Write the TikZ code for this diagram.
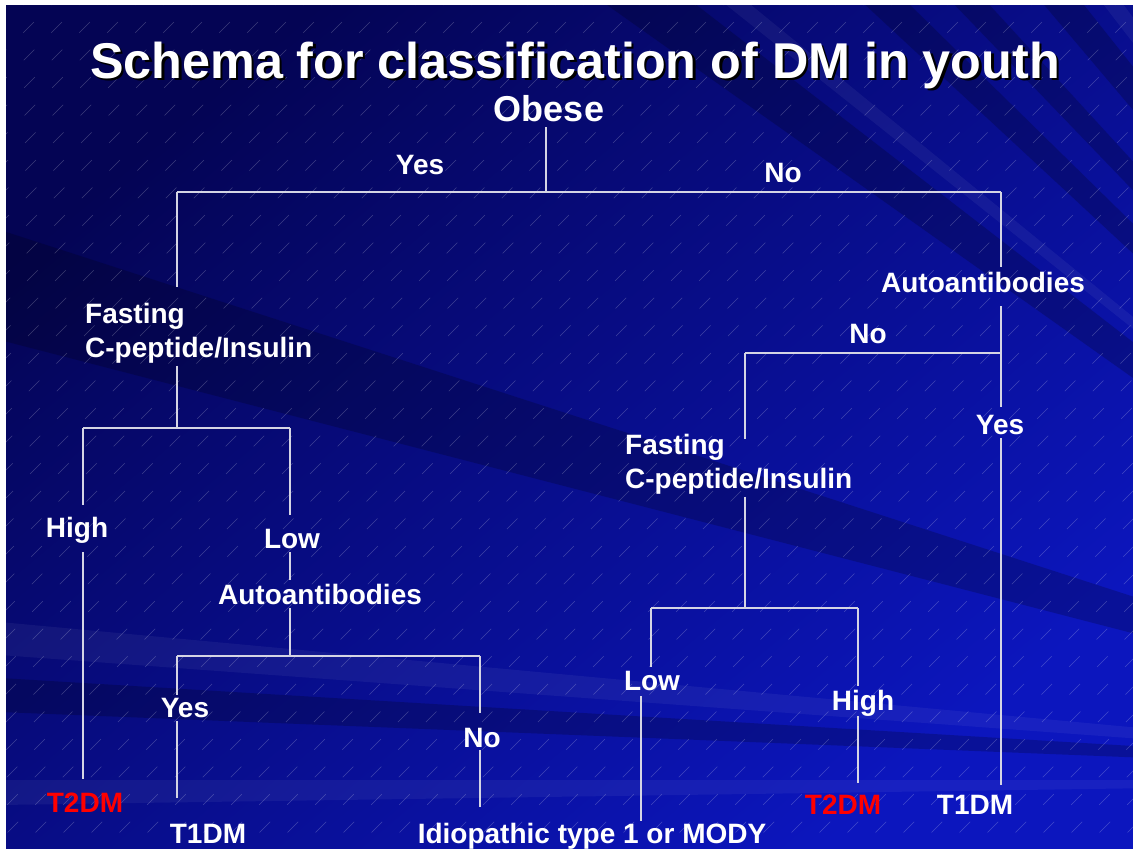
\documentclass[tikz,border=0pt]{standalone}
\usepackage{fontspec}
\setmainfont{Liberation Sans}
\usetikzlibrary{calc}
\definecolor{bgdark}{RGB}{4,4,84}
\definecolor{bgmid}{RGB}{0,0,138}
\definecolor{bglight}{RGB}{12,22,190}
\definecolor{wirec}{RGB}{212,212,228}
\definecolor{tred}{RGB}{255,0,0}
\begin{document}
\begin{tikzpicture}[x=1pt,y=-1pt,
  lbl/.style={text=white,font=\bfseries\fontsize{28}{34}\selectfont,inner sep=0pt,anchor=base},
  res/.style={lbl,text=tred},
  multi/.style={lbl,align=left,anchor=north west},
  bigl/.style={lbl,font=\bfseries\fontsize{36}{40}\selectfont},
  titlef/.style={lbl,font=\bfseries\fontsize{50.3}{56}\selectfont},
  wire/.style={draw=wirec,line width=1.3pt},
  hatch/.style={white,opacity=0.22,line width=0.6pt,dash pattern=on 15pt off 24pt},
  darkray/.style={fill=black,opacity=0.20},
  lightray/.style={fill=white,opacity=0.05}]
\useasboundingbox (0,0) rectangle (1133,849);
\fill[white] (0,0) rectangle (1133,849);
\begin{scope}
  \clip (6,5) rectangle (1133,849);
  \shade[shading=axis,top color=bgdark,middle color=bgmid,bottom color=bglight,shading angle=40] (6,5) rectangle (1133,849);
  \coordinate (F) at (1700,780);
  % rays
  \fill[darkray] (F) -- (600,0) -- (690,0) -- cycle;
  \fill[darkray] (F) -- (860,0) -- (905,0) -- cycle;
  \fill[darkray] (F) -- (950,0) -- (985,0) -- cycle;
  \fill[darkray] (F) -- (1040,0) -- (1080,0) -- cycle;
  \fill[lightray] (F) -- (720,0) -- (745,0) -- cycle;
  \fill[lightray] (F) -- (1100,0) -- (1120,0) -- cycle;
  \fill[darkray] (F) -- (0,230) -- (0,340) -- cycle;
  \fill[darkray] (F) -- (0,678) -- (0,712) -- cycle;
  \fill[lightray] (F) -- (0,622) -- (0,655) -- cycle;
  \fill[lightray] (F) -- (0,780) -- (0,805) -- cycle;
  % hatching
  \foreach \i in {-860,-832,...,1133} \draw[hatch] (\i,860) -- ++(870,-870);
\end{scope}

% title with its drop shadow
\node[titlef,text=black] (titleshadow) at (577.5,80.5) {Schema for classification of DM in youth};
\node[titlef] (title) at (575,78) {Schema for classification of DM in youth};

% nodes
\node[bigl] (obese) at (549,121) {Obese};
\node[lbl] (yesT) at (420,174) {Yes};
\node[lbl] (noT) at (783,182) {No};
\node[multi] (fastL) at (85,303) {Fasting\\C-peptide/Insulin};
\node[lbl] (highL) at (77,537) {High};
\node[lbl] (lowL) at (292,548) {Low};
\node[lbl] (autoL) at (320,604) {Autoantibodies};
\node[lbl] (yesB) at (185,717) {Yes};
\node[lbl] (noB) at (482,747) {No};
\node[res] (t2dmL) at (85,812) {T2DM};
\node[lbl] (t1dmL) at (208,843) {T1DM};
\node[lbl] (idio) at (592,843) {Idiopathic type 1 or MODY};
\node[lbl] (autoR) at (983,292) {Autoantibodies};
\node[lbl] (noR) at (868,343) {No};
\node[lbl] (yesR) at (1000,434) {Yes};
\node[multi] (fastR) at (625,434) {Fasting\\C-peptide/Insulin};
\node[lbl] (lowR) at (652,690) {Low};
\node[lbl] (highR) at (863,710) {High};
\node[res] (t2dmR) at (843,814) {T2DM};
\node[lbl] (t1dmR) at (975,814) {T1DM};

% junctions
\coordinate (j0) at (546,192);
\coordinate (jL) at (177,192);
\coordinate (jR) at (1001,192);
\coordinate (jLM) at (177,428);
\coordinate (jLL) at (83,428);
\coordinate (jLR) at (290,428);
\coordinate (jBM) at (290,656);
\coordinate (jBL) at (177,656);
\coordinate (jBR) at (480,656);
\coordinate (jRN) at (1001,353);
\coordinate (jRNL) at (745,353);
\coordinate (jRF) at (745,608);
\coordinate (jRFL) at (651,608);
\coordinate (jRFR) at (858,608);

% connectors
\draw[wire] ($(obese.base -| j0)+(0,6)$) -- (j0);
\draw[wire] (jL) -- (jR);
\draw[wire] (jL) -- ($(fastL.north -| jL)+(0,-16)$);
\draw[wire] ($(fastL.south -| jL)+(0,2)$) -- (jLM);
\draw[wire] (jLL) -- (jLR);
\draw[wire] (jLL) -- ($(highL.base -| jLL)+(0,-32)$);
\draw[wire] ($(highL.base -| jLL)+(0,15)$) -- ($(t2dmL.base -| jLL)+(0,-33)$);
\draw[wire] (jLR) -- ($(lowL.base -| jLR)+(0,-33)$);
\draw[wire] ($(lowL.base -| jLR)+(0,4)$) -- ($(autoL.base -| jLR)+(0,-24)$);
\draw[wire] ($(autoL.base -| jLR)+(0,4)$) -- (jBM);
\draw[wire] (jBL) -- (jBR);
\draw[wire] (jBL) -- ($(yesB.base -| jBL)+(0,-22)$);
\draw[wire] ($(yesB.base -| jBL)+(0,4)$) -- ($(t1dmL.base -| jBL)+(0,-45)$);
\draw[wire] (jBR) -- ($(noB.base -| jBR)+(0,-34)$);
\draw[wire] ($(noB.base -| jBR)+(0,3)$) -- ($(idio.base -| jBR)+(0,-36)$);
\draw[wire] (jR) -- ($(autoR.base -| jR)+(0,-25)$);
\draw[wire] ($(autoR.base -| jR)+(0,14)$) -- ($(yesR.base -| jR)+(0,-27)$);
\draw[wire] ($(yesR.base -| jR)+(0,4)$) -- ($(t1dmR.base -| jR)+(0,-29)$);
\draw[wire] (jRNL) -- (jRN);
\draw[wire] (jRNL) -- ($(fastR.north -| jRNL)+(0,5)$);
\draw[wire] ($(fastR.south -| jRNL)+(0,2)$) -- (jRF);
\draw[wire] (jRFL) -- (jRFR);
\draw[wire] (jRFL) -- ($(lowR.base -| jRFL)+(0,-23)$);
\draw[wire] ($(lowR.base)+(-11,6)$) -- ($(lowR.base |- idio.base)+(-11,-22)$);
\draw[wire] (jRFR) -- ($(highR.base -| jRFR)+(0,-24)$);
\draw[wire] ($(highR.base -| jRFR)+(0,6)$) -- ($(t2dmR.base -| jRFR)+(0,-31)$);
\end{tikzpicture}
\end{document}
